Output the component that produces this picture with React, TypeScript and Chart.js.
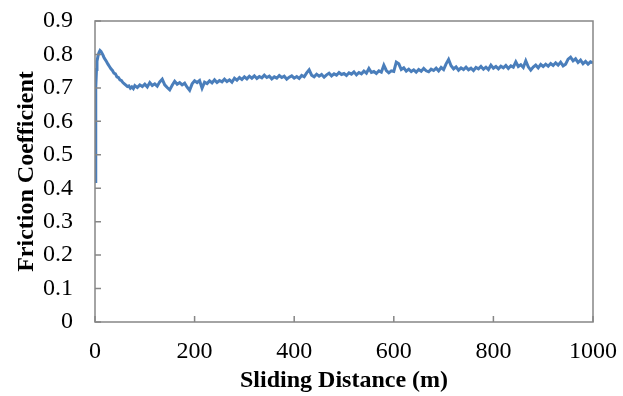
import React, { useEffect, useRef } from "react";
import { Chart, registerables } from "chart.js";

Chart.register(...registerables);

const distance: number[] = [
  0, 1, 2, 3, 4, 6, 8, 10, 12, 14, 16, 18, 20, 23, 26, 29, 32, 35, 38, 41, 44, 47, 50, 53, 56, 59, 62, 65, 68, 71, 74, 77,
  80, 85, 90, 95, 100, 105, 110, 115, 120, 125, 130, 135, 140, 145, 150, 155, 160, 165, 170, 175, 180, 185, 190, 195, 200,
  205, 210, 215, 220, 225, 230, 235, 240, 245, 250, 255, 260, 265, 270, 275, 280, 285, 290, 295, 300,
  305, 310, 315, 320, 325, 330, 335, 340, 345, 350, 355, 360, 365, 370, 375, 380, 385, 390, 395, 400,
  405, 410, 415, 420, 425, 430, 435, 440, 445, 450, 455, 460, 465, 470, 475, 480, 485, 490, 495, 500,
  505, 510, 515, 520, 525, 530, 535, 540, 545, 550, 555, 560, 565, 570, 575, 580, 585, 590, 595, 600,
  605, 610, 615, 620, 625, 630, 635, 640, 645, 650, 655, 660, 665, 670, 675, 680, 685, 690, 695, 700,
  705, 710, 715, 720, 725, 730, 735, 740, 745, 750, 755, 760, 765, 770, 775, 780, 785, 790, 795, 800,
  805, 810, 815, 820, 825, 830, 835, 840, 845, 850, 855, 860, 865, 870, 875, 880, 885, 890, 895, 900,
  905, 910, 915, 920, 925, 930, 935, 940, 945, 950, 955, 960, 965, 970, 975, 980, 985, 990, 995, 1000,
];

const friction: number[] = [
  0.42, 0.58, 0.7, 0.755, 0.78, 0.795, 0.806, 0.812, 0.809, 0.804, 0.798, 0.791, 0.786, 0.779, 0.771, 0.764, 0.757, 0.752,
  0.744, 0.742, 0.733, 0.731, 0.724, 0.722, 0.716, 0.712, 0.708, 0.704, 0.706, 0.699, 0.703, 0.698,
  0.707, 0.701, 0.709, 0.704, 0.711, 0.703, 0.716, 0.707, 0.712, 0.705, 0.718, 0.726, 0.709, 0.701, 0.694, 0.708, 0.72,
  0.711, 0.716, 0.709, 0.714, 0.702, 0.693, 0.712, 0.721,
  0.716, 0.722, 0.699, 0.717, 0.713, 0.721, 0.715, 0.724, 0.716, 0.722, 0.718, 0.726, 0.719, 0.724, 0.717, 0.729, 0.723,
  0.731, 0.725, 0.733,
  0.727, 0.735, 0.729, 0.736, 0.728, 0.734, 0.73, 0.738, 0.731, 0.735, 0.727, 0.733, 0.729, 0.737, 0.731, 0.735, 0.726,
  0.732, 0.736, 0.729,
  0.734, 0.728, 0.737, 0.733, 0.745, 0.754, 0.738, 0.733, 0.741, 0.735, 0.74, 0.732, 0.739, 0.744, 0.736, 0.742, 0.738,
  0.746, 0.74, 0.743,
  0.737, 0.745, 0.741, 0.748, 0.739, 0.746, 0.742, 0.75, 0.744, 0.758, 0.746, 0.749, 0.743, 0.751, 0.747, 0.768, 0.752,
  0.745, 0.751, 0.749,
  0.777, 0.772, 0.755, 0.76, 0.75, 0.756, 0.749, 0.754, 0.747, 0.755, 0.75, 0.758, 0.751, 0.748, 0.756, 0.752, 0.759,
  0.751, 0.761, 0.755,
  0.772, 0.785, 0.766, 0.757, 0.763, 0.753, 0.76, 0.755, 0.762, 0.754, 0.759, 0.752, 0.761, 0.757, 0.764, 0.756, 0.762,
  0.755, 0.768, 0.759,
  0.764, 0.757, 0.765, 0.76, 0.767, 0.758, 0.766, 0.762, 0.778, 0.764, 0.769, 0.761, 0.781, 0.763, 0.753, 0.762, 0.768,
  0.76, 0.77, 0.764,
  0.771, 0.765, 0.773, 0.767, 0.775, 0.768, 0.777, 0.766, 0.771, 0.786, 0.792, 0.781, 0.787, 0.776, 0.783, 0.772, 0.779,
  0.771, 0.778, 0.775,
];

const xTicks: number[] = [0, 200, 400, 600, 800, 1000];
const yTicks: number[] = [0, 0.1, 0.2, 0.3, 0.4, 0.5, 0.6, 0.7, 0.8, 0.9];

const xTitle = "Sliding Distance (m)";
const yTitle = "Friction Coefficient";

const FONT = "'Liberation Serif', 'Times New Roman', serif";
const FRAME = "#868686";
const LINE = "#4a7ebb";

const framePlugin = {
  id: "frameAndTicks",
  afterDatasetsDraw(chart: any) {
    const { ctx, chartArea, scales } = chart;
    const { left, right, top, bottom } = chartArea;
    ctx.save();
    ctx.strokeStyle = FRAME;
    ctx.lineWidth = 1.5;
    ctx.strokeRect(left, top, right - left, bottom - top);
    ctx.beginPath();
    for (const v of yTicks) {
      const py = scales.y.getPixelForValue(v);
      ctx.moveTo(left, py);
      ctx.lineTo(left + 6, py);
    }
    for (const v of xTicks) {
      const px = scales.x.getPixelForValue(v);
      ctx.moveTo(px, bottom);
      ctx.lineTo(px, bottom - 6);
    }
    ctx.stroke();
    ctx.restore();
  },
};

export default function App() {
  const ref = useRef<HTMLCanvasElement | null>(null);

  useEffect(() => {
    if (!ref.current) return;
    const data = distance.map((d, i) => ({ x: d, y: friction[i] }));
    const chart = new Chart(ref.current, {
      type: "line",
      data: {
        datasets: [
          {
            data,
            borderColor: LINE,
            borderWidth: 3,
            pointRadius: 0,
            tension: 0,
            fill: false,
          },
        ],
      },
      options: {
        animation: false,
        responsive: false,
        maintainAspectRatio: false,
        layout: { padding: { left: 0, right: 30, top: 21, bottom: 0 } },
        plugins: { legend: { display: false }, tooltip: { enabled: false } },
        scales: {
          x: {
            type: "linear",
            min: 0,
            max: 1000,
            afterFit: (s: any) => {
              s.height = 74;
              s.paddingLeft = 0;
              s.paddingRight = 0;
            },
            afterBuildTicks: (s: any) => {
              s.ticks = xTicks.map((v) => ({ value: v }));
            },
            grid: { display: false, drawTicks: false },
            border: { display: false },
            ticks: {
              padding: 15,
              color: "#000",
              font: { family: FONT, size: 24 },
              maxRotation: 0,
              callback: (v: any) => String(v),
            },
            title: {
              display: true,
              text: xTitle,
              color: "#000",
              font: { family: FONT, size: 24, weight: "bold" },
              padding: { top: 0, bottom: 1 },
            },
          },
          y: {
            type: "linear",
            min: 0,
            max: 0.9,
            afterFit: (s: any) => {
              s.width = 95;
              s.paddingTop = 0;
              s.paddingBottom = 0;
            },
            afterBuildTicks: (s: any) => {
              s.ticks = yTicks.map((v) => ({ value: v }));
            },
            grid: { display: false, drawTicks: false },
            border: { display: false },
            ticks: {
              padding: 22,
              color: "#000",
              font: { family: FONT, size: 24 },
              callback: (v: any) => (Number(v) === 0 ? "0" : Number(v).toFixed(1)),
            },
            title: {
              display: true,
              text: yTitle,
              color: "#000",
              font: { family: FONT, size: 24, weight: "bold" },
              padding: { top: 12, bottom: 0 },
            },
          },
        },
      },
      plugins: [framePlugin],
    });
    return () => chart.destroy();
  }, []);

  return (
    <div style={{ position: "fixed", left: 0, top: 0, width: 623, height: 396, background: "#fff" }}>
      <canvas ref={ref} width={623} height={396} style={{ width: 623, height: 396, display: "block" }} />
    </div>
  );
}
